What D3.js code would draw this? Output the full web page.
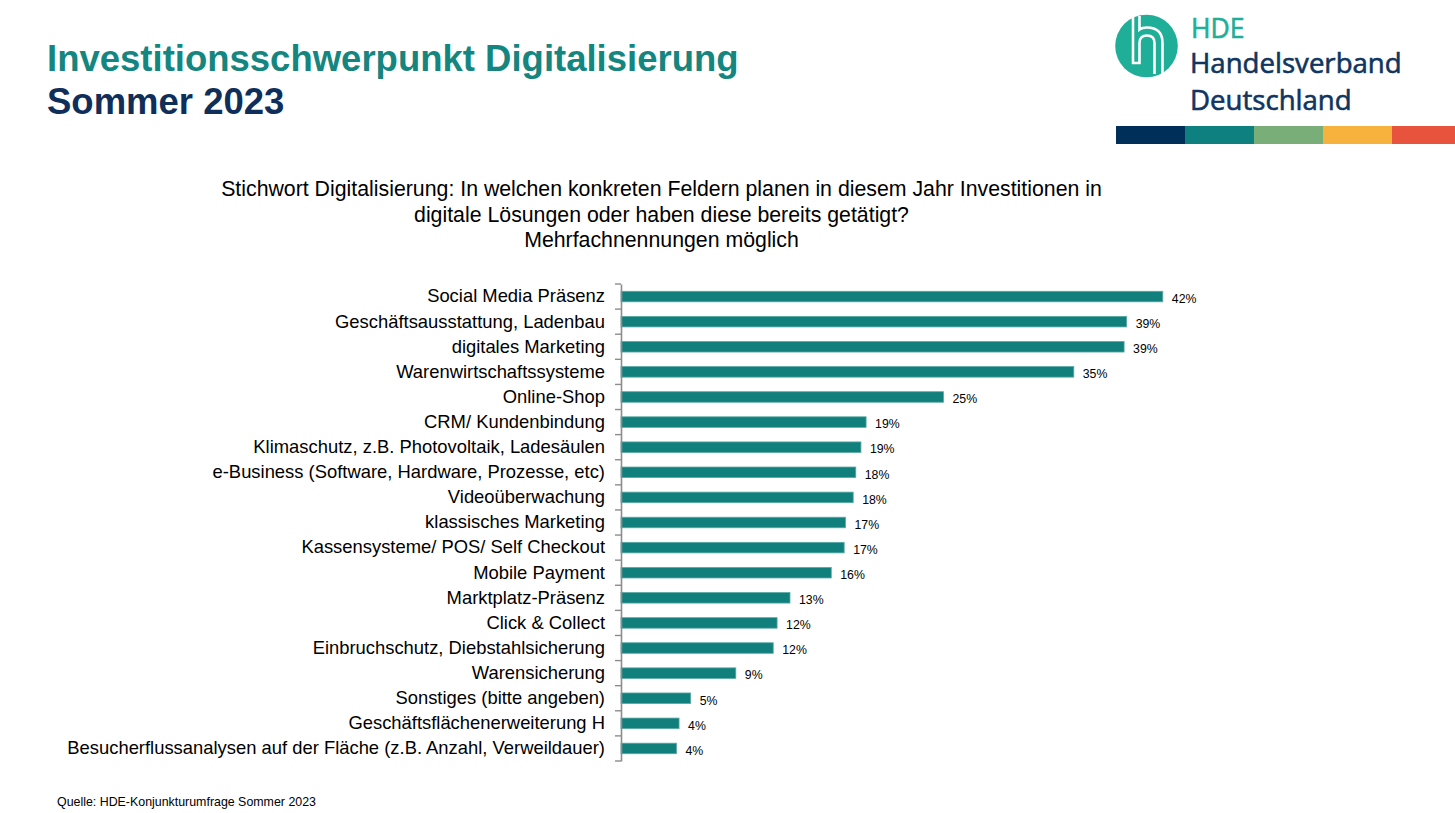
<!DOCTYPE html>
<html>
<head>
<meta charset="utf-8">
<script src="https://cdn.jsdelivr.net/npm/d3@7"></script>
<style>
  html, body { margin: 0; padding: 0; background: #fff; }
  svg { display: block; }
</style>
</head>
<body>
<svg id="chart" width="1455" height="813"></svg>
<script>
const categories = [
  "Social Media Präsenz",
  "Geschäftsausstattung, Ladenbau",
  "digitales Marketing",
  "Warenwirtschaftssysteme",
  "Online-Shop",
  "CRM/ Kundenbindung",
  "Klimaschutz, z.B. Photovoltaik, Ladesäulen",
  "e-Business (Software, Hardware, Prozesse, etc)",
  "Videoüberwachung",
  "klassisches Marketing",
  "Kassensysteme/ POS/ Self Checkout",
  "Mobile Payment",
  "Marktplatz-Präsenz",
  "Click & Collect",
  "Einbruchschutz, Diebstahlsicherung",
  "Warensicherung",
  "Sonstiges (bitte angeben)",
  "Geschäftsflächenerweiterung H",
  "Besucherflussanalysen auf der Fläche (z.B. Anzahl, Verweildauer)"
];
const values = [42.0, 39.2, 39.0, 35.1, 25.0, 19.0, 18.6, 18.2, 18.0, 17.4, 17.3, 16.3, 13.1, 12.1, 11.8, 8.9, 5.4, 4.5, 4.3];
const valueLabels = ["42%", "39%", "39%", "35%", "25%", "19%", "19%", "18%", "18%", "17%", "17%", "16%", "13%", "12%", "12%", "9%", "5%", "4%", "4%"];

const titleLines = ["Investitionsschwerpunkt Digitalisierung", "Sommer 2023"];
const subtitleLines = [
  "Stichwort Digitalisierung: In welchen konkreten Feldern planen in diesem Jahr Investitionen in",
  "digitale Lösungen oder haben diese bereits getätigt?",
  "Mehrfachnennungen möglich"
];
const sourceText = "Quelle: HDE-Konjunkturumfrage Sommer 2023";
const logoLines = ["HDE", "Handelsverband", "Deutschland"];
const stripColors = ["#00305a", "#0f8080", "#7aae79", "#f6b23c", "#e8533e"];

const svg = d3.select("#chart");
const FONT = "'Liberation Sans', Arial, sans-serif";

// Titles
svg.append("text").attr("x", 47).attr("y", 71)
  .attr("font-family", FONT).attr("font-weight", "bold").attr("font-size", 36.5)
  .attr("fill", "#15867f").text(titleLines[0]);
svg.append("text").attr("x", 47).attr("y", 114)
  .attr("font-family", FONT).attr("font-weight", "bold").attr("font-size", 36.5)
  .attr("fill", "#0f2f5a").text(titleLines[1]);

// Subtitle
const subY = [196, 221.5, 247];
svg.append("g").selectAll("text").data(subtitleLines).join("text")
  .attr("x", 661.5).attr("y", (d, i) => subY[i])
  .attr("text-anchor", "middle")
  .attr("font-family", FONT).attr("font-size", 21.3).attr("fill", "#000")
  .text(d => d);

// Logo
const logo = svg.append("g");
logo.append("circle").attr("cx", 1146.5).attr("cy", 46).attr("r", 31.3).attr("fill", "#1fae98");
logo.append("path")
  .attr("d", "M1133,16 L1133,63 L1139.5,63 L1139.5,43 Q1139.5,35.5 1147,35.5 Q1154.5,35.5 1154.5,43 L1154.5,74")
  .attr("fill", "none").attr("stroke", "#fff").attr("stroke-width", 2.6);
logo.append("path")
  .attr("d", "M1162.5,74 L1162.5,43 Q1162.5,27.5 1147,27.5 Q1142,27.5 1139.5,29.5 L1139.5,16")
  .attr("fill", "none").attr("stroke", "#fff").attr("stroke-width", 2.6);
const LFONT = "'Open Sans', 'Noto Sans', sans-serif";
logo.append("text").attr("x", 1191).attr("y", 38).attr("font-family", LFONT)
  .attr("font-size", 26.5).attr("fill", "#1fae98")
  .attr("stroke", "#1fae98").attr("stroke-width", 0.6).text(logoLines[0]);
logo.append("text").attr("x", 1190).attr("y", 73).attr("font-family", LFONT)
  .attr("font-size", 27.6).attr("fill", "#0f3560")
  .attr("stroke", "#0f3560").attr("stroke-width", 0.6).text(logoLines[1]);
logo.append("text").attr("x", 1190).attr("y", 110).attr("font-family", LFONT)
  .attr("font-size", 27.6).attr("fill", "#0f3560")
  .attr("stroke", "#0f3560").attr("stroke-width", 0.6).text(logoLines[2]);

// Color strip
const stripX = d3.scaleBand().domain(d3.range(stripColors.length)).range([1116, 1461]);
svg.append("g").selectAll("rect").data(stripColors).join("rect")
  .attr("x", (d, i) => stripX(i)).attr("y", 126)
  .attr("width", stripX.bandwidth() + 0.5).attr("height", 18)
  .attr("fill", d => d);

// Chart scales
const x = d3.scaleLinear().domain([0, 45]).range([621, 1201.5]);
const y = d3.scaleBand().domain(categories).range([284, 761])
  .paddingInner(0.58).paddingOuter(0.29);

// Bars
svg.append("g").selectAll("rect").data(values).join("rect")
  .attr("x", x(0))
  .attr("y", (d, i) => y(categories[i]))
  .attr("width", d => x(d) - x(0))
  .attr("height", y.bandwidth())
  .attr("fill", "#117f7c")
  .attr("stroke", "#5aa9a5").attr("stroke-width", 0.8);

// Value labels
svg.append("g").selectAll("text").data(values).join("text")
  .attr("x", d => x(d) + 9)
  .attr("y", (d, i) => y(categories[i]) + y.bandwidth() / 2 + 2)
  .attr("dy", "0.35em")
  .attr("font-family", FONT).attr("font-size", 12.3).attr("fill", "#000")
  .text((d, i) => valueLabels[i]);

// Axis with labels
const axis = d3.axisLeft(y).tickSize(0).tickPadding(16);
const gAxis = svg.append("g").attr("transform", `translate(${x(0)},0)`).call(axis);
gAxis.select(".domain").attr("stroke", "#8c8c8c").attr("stroke-width", 1.6);
gAxis.selectAll(".tick text")
  .attr("font-family", FONT).attr("font-size", 18.4).attr("fill", "#000");

// Boundary ticks
const step = y.step();
const bounds = categories.map(c => y(c) - y.paddingInner() * step / 2).concat([y.range()[1]]);
svg.append("g").selectAll("line").data(bounds).join("line")
  .attr("x1", x(0) - 6).attr("x2", x(0))
  .attr("y1", d => d).attr("y2", d => d)
  .attr("stroke", "#8c8c8c").attr("stroke-width", 1.4);

// Source
svg.append("text").attr("x", 57).attr("y", 806)
  .attr("font-family", FONT).attr("font-size", 12.4).attr("fill", "#000")
  .text(sourceText);
</script>
</body>
</html>
